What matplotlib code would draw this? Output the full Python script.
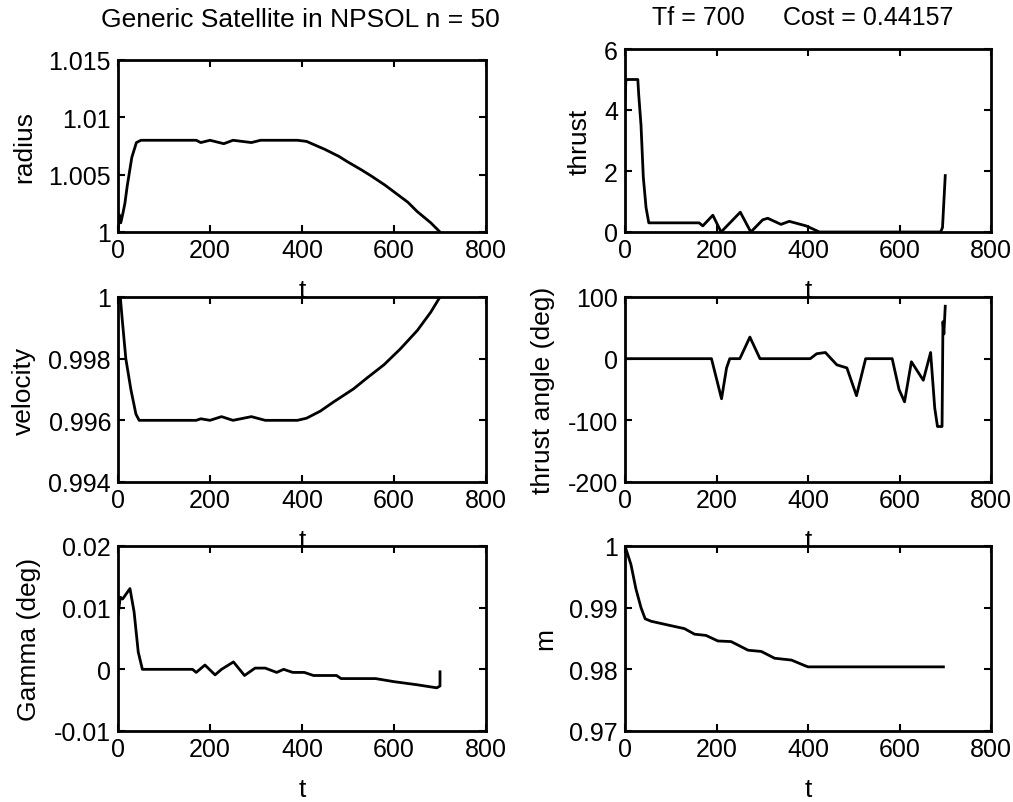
import matplotlib.pyplot as plt

plt.rcParams['font.family'] = ['Liberation Sans', 'DejaVu Sans']
plt.rcParams['font.size'] = 18
plt.rcParams['axes.unicode_minus'] = False

# radius vs t
t_radius = [0, 3, 6, 10, 15, 20, 30, 40, 50, 100, 170, 180, 200, 230, 250, 290, 310, 390,
            410, 450, 480, 500, 530, 550, 580, 600, 630, 650, 680, 700]
radius = [1.0, 1.0015, 1.0008, 1.0015, 1.0025, 1.004, 1.0065, 1.0078, 1.008, 1.008, 1.008,
          1.0078, 1.008, 1.0077, 1.008, 1.0078, 1.008, 1.008,
          1.0079, 1.0072, 1.0066, 1.0061, 1.0054, 1.0049, 1.0041, 1.0035, 1.0026, 1.0018,
          1.0008, 1.0]

# thrust vs t
t_thrust = [0, 2, 6, 28, 30, 35, 40, 46, 52, 162, 170, 192, 210, 252, 275, 301, 312, 341,
            359, 396, 425, 690, 694, 697, 700]
thrust = [4.3, 5.0, 5.0, 5.0, 4.5, 3.5, 1.8, 0.8, 0.3, 0.3, 0.2, 0.55, 0.0, 0.65, 0.0, 0.4,
          0.45, 0.25, 0.35, 0.2, 0.0, 0.0, 0.15, 1.0, 1.85]

# velocity vs t
t_vel = [0, 5, 9, 17, 28, 39, 46, 170, 180, 200, 225, 250, 290, 320, 390, 410, 440, 468,
         512, 541, 578, 614, 651, 680, 700]
velocity = [1.0, 1.0, 0.9993, 0.998, 0.997, 0.9962, 0.996, 0.996, 0.99605, 0.996, 0.99612,
            0.996, 0.99612, 0.996, 0.996, 0.99607, 0.9963, 0.99659,
            0.99702, 0.99737, 0.9978, 0.99832, 0.99892, 0.99951, 1.0]

# thrust angle vs t
t_angle = [0, 189, 211, 222, 229, 251, 273, 295, 405, 419, 438, 463, 485, 506, 526, 584,
           599, 611, 626, 652, 668, 677, 683, 693, 695, 697, 700]
thrust_angle = [0, 0, -65, -15, 0, 0, 35, 0, 0, 8, 10, -10, -15, -60, 0, 0,
                -50, -70, -5, -35, 10, -80, -110, -110, 60, 40, 85]

# flight path angle vs t
t_gamma = [0, 5, 10, 26, 35, 44, 53, 162, 170, 189, 211, 225, 251, 275, 298, 320, 345, 360,
           380, 405, 425, 475, 485, 560, 600, 650, 693, 700, 700]
gamma = [0.0087, 0.0117, 0.0114, 0.0131, 0.0093, 0.0028, 0.0, 0.0, -0.0005, 0.0007, -0.0009,
         0.0, 0.0012, -0.001, 0.0002, 0.0002, -0.0005, 0.0, -0.0005, -0.0005, -0.001, -0.001,
         -0.0015, -0.0015, -0.002, -0.0025, -0.003, -0.0027, -0.0004]

# mass vs t
t_mass = [0, 13, 24, 35, 44, 57, 93, 130, 152, 177, 203, 232, 269, 298, 327, 364, 393, 400, 696]
mass = [1.0, 0.997, 0.993, 0.990, 0.9882, 0.9878, 0.9872, 0.9866, 0.9857, 0.9855, 0.9846,
        0.9845, 0.9831, 0.9829, 0.9818, 0.9815, 0.9806, 0.9804, 0.9804]

W, H = 1013, 803
fig = plt.figure(figsize=(W / 100, H / 100), dpi=100)


def make_axes(left, right, top, bottom):
    return fig.add_axes([left / W, 1 - bottom / H, (right - left) / W, (bottom - top) / H])


def style(ax, ylim, yticks, ylabel, ytl=None):
    ax.set_xlim(0, 800)
    ax.set_xticks([0, 200, 400, 600, 800])
    ax.set_ylim(*ylim)
    ax.set_yticks(yticks)
    if ytl is not None:
        ax.set_yticklabels(ytl)
    ax.tick_params(direction='in', top=True, right=True, length=5, width=1.5,
                   labelsize=18, pad=5)
    ax.tick_params(axis='x', pad=4)
    for s in ax.spines.values():
        s.set_linewidth(2)
    ax.set_ylabel(ylabel, fontsize=19, labelpad=9)
    ax.set_xlabel('t', fontsize=19, labelpad=12)


lw = 2.0

ax1 = make_axes(118, 486, 61, 233)
ax1.plot(t_radius, radius, color='black', lw=lw)
style(ax1, (1.0, 1.015), [1.0, 1.005, 1.01, 1.015], 'radius',
      ['1', '1.005', '1.01', '1.015'])

ax2 = make_axes(625, 991, 50, 233)
ax2.plot(t_thrust, thrust, color='black', lw=lw)
style(ax2, (0, 6), [0, 2, 4, 6], 'thrust')

ax3 = make_axes(118, 486, 298, 483)
ax3.plot(t_vel, velocity, color='black', lw=lw)
style(ax3, (0.994, 1.0), [0.994, 0.996, 0.998, 1.0], 'velocity',
      ['0.994', '0.996', '0.998', '1'])

ax4 = make_axes(625, 991, 298, 483)
ax4.plot(t_angle, thrust_angle, color='black', lw=lw)
style(ax4, (-200, 100), [-200, -100, 0, 100], 'thrust angle (deg)')

ax5 = make_axes(118, 486, 547, 732)
ax5.plot(t_gamma, gamma, color='black', lw=lw)
style(ax5, (-0.01, 0.02), [-0.01, 0, 0.01, 0.02], 'Gamma (deg)',
      ['-0.01', '0', '0.01', '0.02'])

ax6 = make_axes(625, 991, 547, 732)
ax6.plot(t_mass, mass, color='black', lw=lw)
style(ax6, (0.97, 1.0), [0.97, 0.98, 0.99, 1.0], 'm',
      ['0.97', '0.98', '0.99', '1'])

fig.text(300 / W, 1 - 20 / H, 'Generic Satellite in NPSOL n = 50', ha='center', va='center',
         fontsize=19)
fig.text(698 / W, 1 - 18 / H, 'Tf = 700', ha='center', va='center', fontsize=18)
fig.text(868 / W, 1 - 18 / H, 'Cost = 0.44157', ha='center', va='center', fontsize=18)

fig.savefig('out.png', dpi=100)
